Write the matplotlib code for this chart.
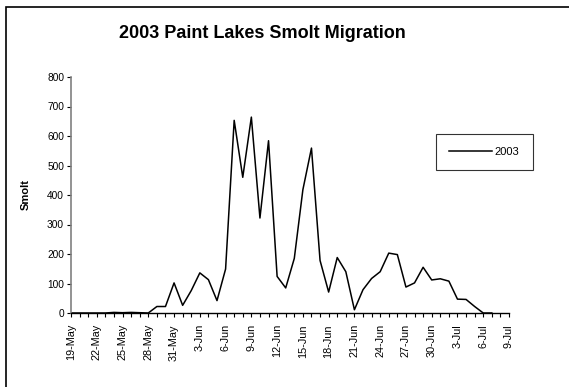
import pandas as pd
import matplotlib.pyplot as plt
import matplotlib.dates as mdates
from matplotlib.patches import Rectangle

plt.rcParams['font.family'] = ['Liberation Sans', 'DejaVu Sans']

# conteos diarios de smolt, desde el 19 de mayo de 2003
start_date = '2003-05-19'
smolt = [0, 0, 0, 0, 0, 2, 1, 2, 1, 0,
         22, 22, 102, 26, 76, 136, 113, 42, 149, 653,
         460, 664, 322, 584, 124, 85, 185, 418, 559, 178,
         71, 188, 140, 11, 79, 117, 140, 203, 198, 88,
         102, 155, 112, 116, 108, 47, 46, 22, 0, 0]
dates = pd.date_range(start_date, periods=len(smolt), freq='D')

fig = plt.figure(figsize=(5.69, 3.87), dpi=100)
ax = fig.add_axes([71 / 569, 1 - 313 / 387, (509 - 71) / 569, (313 - 77) / 387])

ax.plot(dates, smolt, color='black', linewidth=1.1, label='2003')

ax.set_xlim(pd.Timestamp('2003-05-19'), pd.Timestamp('2003-07-09'))
ax.set_ylim(0, 800)
ax.set_yticks(range(0, 801, 100))
# etiquetas cada 3 dias, marcas menores cada dia
ticks = pd.date_range('2003-05-19', '2003-07-09', freq='3D')
ax.set_xticks(ticks)
ax.set_xticklabels([f'{d.day}-{d.strftime("%b")}' for d in ticks], rotation=90, fontsize=7.8)
ax.xaxis.set_minor_locator(mdates.DayLocator())
ax.tick_params(axis='x', which='both', length=3, width=0.8, direction='out', pad=5)
ax.tick_params(axis='y', length=3, width=0.8, labelsize=7.3, pad=2)

for s in ['top', 'right']:
    ax.spines[s].set_visible(False)
ax.spines['left'].set_color('#808080')
ax.spines['left'].set_linewidth(1.2)
ax.spines['bottom'].set_linewidth(1)

ax.set_ylabel('Smolt', fontsize=8, fontweight='bold', labelpad=12)
fig.text(262 / 569, 1 - 33 / 387, '2003 Paint Lakes Smolt Migration',
         ha='center', va='center', fontsize=13, fontweight='bold')

leg = fig.legend(loc='center', bbox_to_anchor=(484.5 / 569, 1 - 152 / 387),
                 fontsize=8, frameon=True, fancybox=False, edgecolor='black',
                 handlelength=3.8, borderpad=1.2, handletextpad=0.3, borderaxespad=0)
leg.get_frame().set_linewidth(0.8)

# marco exterior del grafico
fig.patches.append(Rectangle((6 / 569, -0.05), 1.1, 1 - 7 / 387 + 0.05,
                             transform=fig.transFigure, fill=False,
                             edgecolor='black', linewidth=1.2))

plt.savefig('out.png', dpi=100)
